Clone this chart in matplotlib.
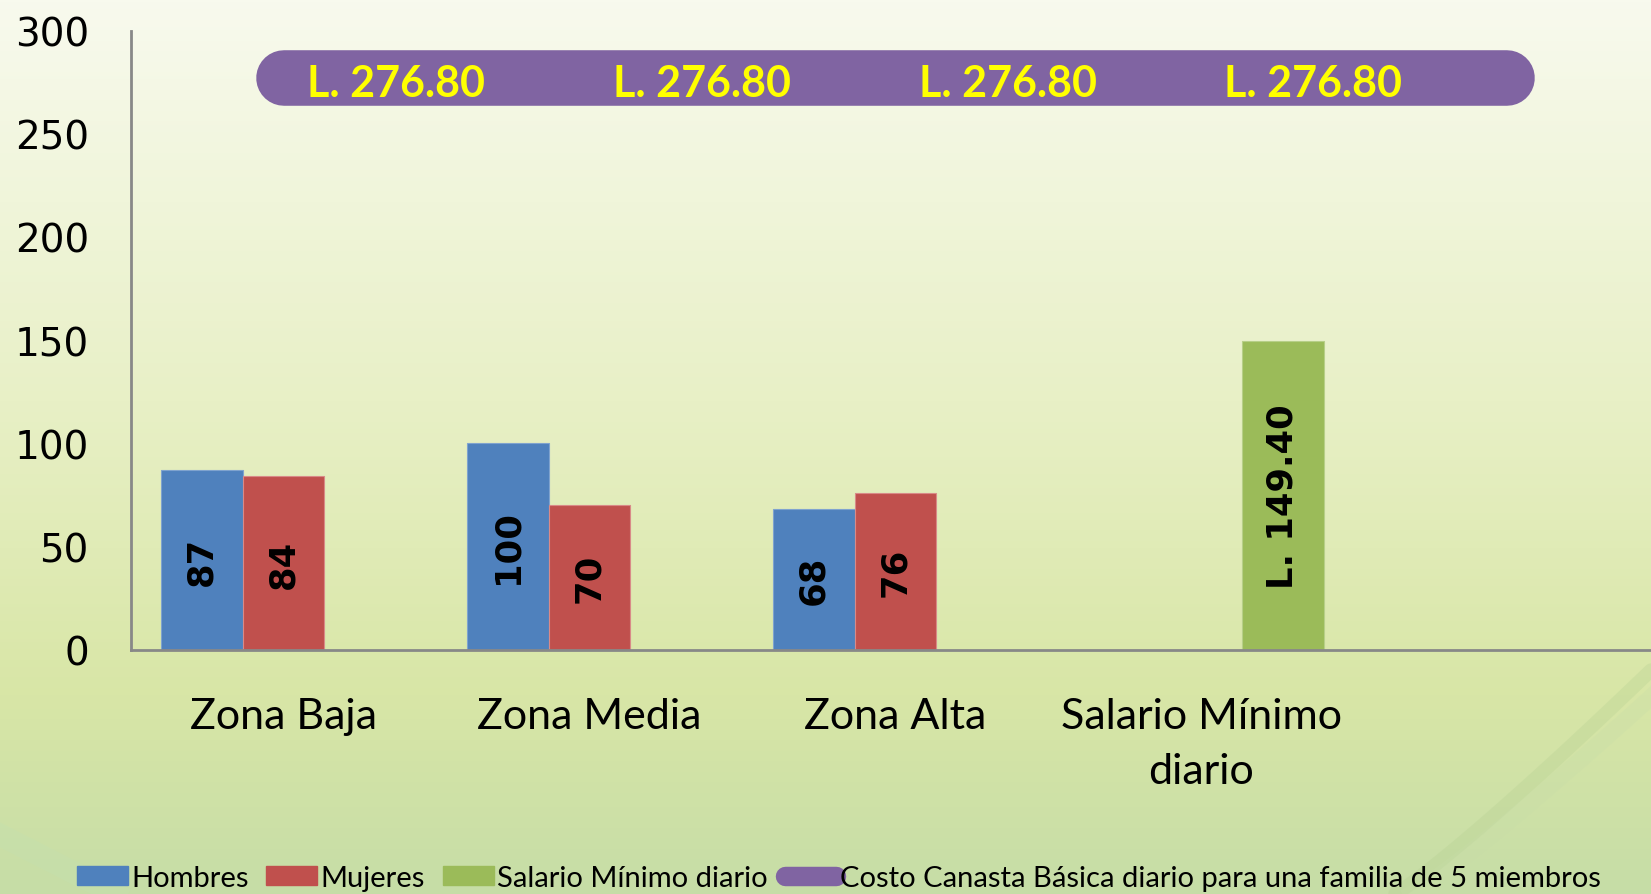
import matplotlib.pyplot as plt
import numpy as np
from matplotlib.colors import LinearSegmentedColormap
from matplotlib.lines import Line2D
from matplotlib.patches import Patch

categorias = ['Zona Baja', 'Zona Media', 'Zona Alta', 'Salario Mínimo\ndiario', '']
hombres = [87, 100, 68, 0, 0]
mujeres = [84, 70, 76, 0, 0]
salario = [0, 0, 0, 149.40, 0]
canasta = [276.80, 276.80, 276.80, 276.80, 276.80]
yticks = [0, 50, 100, 150, 200, 250, 300]

azul = '#4F81BD'
rojo = '#C0504D'
verde = '#9BBB59'
morado = '#8064A2'

fig = plt.figure(figsize=(16.51, 8.95), dpi=100)

# fondo degradado
bg = fig.add_axes([0, 0, 1, 1], zorder=-10)
cmap = LinearSegmentedColormap.from_list(
    'fondo', [(0, '#F8FAEE'), (0.45, '#E8F0C6'), (0.78, '#D8E6A6'), (1, '#C6DDA6')])
bg.imshow(np.linspace(0, 1, 256).reshape(-1, 1), aspect='auto', cmap=cmap,
          extent=[0, 1, 0, 1], origin='upper')
# curvas suaves en las esquinas inferiores
t = np.linspace(0, 1, 100)
bg.plot(0.845 + 0.155 * t, 0.0 + 0.25 * t ** 1.1, color='#B5CF92', lw=10, alpha=0.3,
        solid_capstyle='round')
bg.plot(0.855 + 0.145 * t, 0.0 + 0.22 * t ** 1.1, color='#C8DDA8', lw=12, alpha=0.3)
bg.plot(-0.02 + 0.09 * t, 0.085 - 0.085 * t, color='#C4E0B0', lw=16, alpha=0.4)
bg.set_xlim(0, 1)
bg.set_ylim(0, 1)
bg.axis('off')

ax = fig.add_axes([0.0791, 0.2730, 0.9264, 0.6917])
ax.patch.set_alpha(0)

x = np.arange(len(categorias))
w = 0.267
ax.bar(x - w, hombres, w, color=azul, edgecolor='#7FA3CF', linewidth=0.8)
ax.bar(x, mujeres, w, color=rojo, edgecolor='#D98A88', linewidth=0.8)
ax.bar(x + w, salario, w, color=verde, edgecolor='#B7CF88', linewidth=0.8)
ax.plot(x, canasta, color=morado, lw=40, solid_capstyle='round')

lab_font = dict(family='DejaVu Sans', weight='bold', fontsize=25.5, rotation=90,
                ha='center', va='center', color='black')
for i in range(len(categorias)):
    if hombres[i]:
        ax.text(x[i] - w, hombres[i] / 2, f'{hombres[i]}', **lab_font)
    if mujeres[i]:
        ax.text(x[i], mujeres[i] / 2, f'{mujeres[i]}', **lab_font)
    if salario[i]:
        ax.text(x[i] + w, salario[i] / 2, f'L. {salario[i]:.2f}', **lab_font)
for i in range(4):
    ax.text(x[i] + 0.367, canasta[i] - 2, f'L. {canasta[i]:.2f}', family='Lato',
            weight='bold', fontsize=31, color='#FFFF00', ha='center', va='center')

ax.set_xlim(-0.5, 4.5)
ax.set_ylim(0, 300)
ax.set_yticks(yticks)
ax.set_yticklabels([str(v) for v in yticks], family='DejaVu Sans', fontsize=28)
ax.set_xticks(x)
ax.set_xticklabels(categorias, family='Lato', fontsize=31, linespacing=1.55)
ax.tick_params(axis='y', length=0, pad=30)
ax.tick_params(axis='x', length=0, pad=34)
for s in ['top', 'right']:
    ax.spines[s].set_visible(False)
for s in ['left', 'bottom']:
    ax.spines[s].set_color('#888888')
    ax.spines[s].set_linewidth(2)

handles = [Patch(color=azul), Patch(color=rojo), Patch(color=verde),
           Line2D([0], [0], color=morado, lw=14, solid_capstyle='round')]
nombres = ['Hombres', 'Mujeres', 'Salario Mínimo diario',
           'Costo Canasta Básica diario para una familia de 5 miembros']
fig.legend(handles, nombres, loc='center', bbox_to_anchor=(0.508, 0.018), ncol=4,
           frameon=False, prop={'family': 'Lato', 'size': 21}, handlelength=1.75,
           handleheight=0.65, handletextpad=0.12, columnspacing=0.6)

fig.savefig('out.png', dpi=100)
